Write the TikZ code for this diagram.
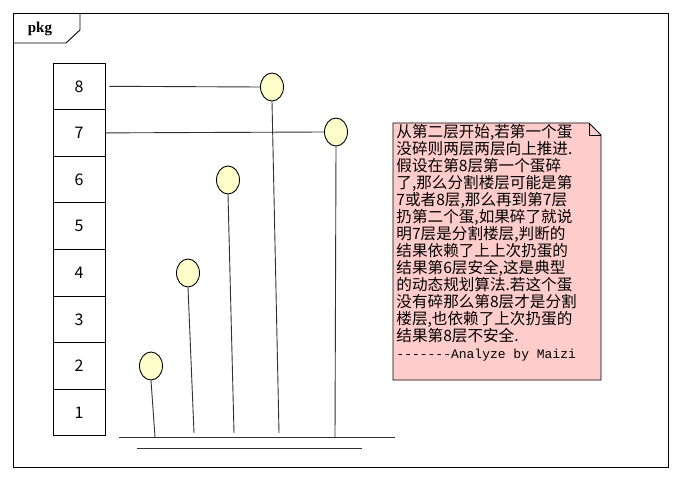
\documentclass[tikz,border=0pt]{standalone}
\usepackage{fontspec}
\setmainfont{Liberation Serif}
\newfontfamily\cjk{Noto Sans CJK SC}
\newfontfamily\monofont{Liberation Mono}
\usetikzlibrary{shapes.geometric}
\definecolor{eggyellow}{HTML}{FFFFCC}
\definecolor{notepink}{HTML}{FFCCCC}
\definecolor{linegray}{HTML}{303030}

\begin{document}
\begin{tikzpicture}[x=1pt,y=-1pt,line width=0.9pt,
    floorbox/.style={draw,minimum width=52pt,minimum height=46.6pt,inner sep=0pt,
      font=\cjk\fontsize{16}{16}\selectfont},
    egg/.style={draw,ellipse,fill=eggyellow,minimum width=23pt,minimum height=28pt,inner sep=0pt},
    stick/.style={draw=linegray},
    notetext/.style={anchor=north west,align=left,inner sep=0pt,
      font=\cjk\fontsize{15.6}{17}\selectfont}]
	\useasboundingbox (0,0) rectangle (682,481);
	% frame and tab
	\draw (13,13) rectangle (668,467);
	\draw (13,43) -- (66,43) -- (80,30) -- (80,13);
	\node (pkg) at (40,29) {\fontsize{15}{15}\selectfont\bfseries pkg};

	% floors
	\foreach \k in {1,...,8} {
		\node [floorbox] (f\k) at (79,412.5-46.6*\k+46.6) {\k};
	}

	% eggs
	\node [egg] (e1) at (151,366) {};
	\node [egg] (e2) at (188,273) {};
	\node [egg] (e3) at (228,180) {};
	\node [egg] (e4) at (272,87) {};
	\node [egg] (e5) at (336,132) {};

	% ground
	\coordinate (gl) at (119,437);
	\coordinate (gr) at (395,437);
	\coordinate (bl) at (137,448);
	\coordinate (br) at (362,448);
	\draw [linegray] (gl) -- (gr);
	\draw [linegray] (bl) -- (br);

	% sticks
	\coordinate (s1) at (155,437);
	\coordinate (s2) at (194,433);
	\coordinate (s3) at (234,433);
	\coordinate (s4) at (279,433);
	\coordinate (s5) at (335,438);
	\foreach \i in {1,...,5} {
		\draw [stick] (e\i.south) -- (s\i);
	}

	% floor links
	\draw [linegray] ([xshift=4pt]f8.east) -- (e4.west);
	\draw [linegray] (f7.east) -- (e5.west);

	% note
	\draw [fill=notepink] (393,123) -- (589,123) -- (601,135) -- (601,380) -- (393,380) -- cycle;
	\draw (589,123) -- (589,135) -- (601,135);
	\node [notetext] (note) at (396,124) {%
		从第二层开始,若第一个蛋\\
		没碎则两层两层向上推进.\\
		假设在第8层第一个蛋碎\\
		了,那么分割楼层可能是第\\
		7或者8层,那么再到第7层\\
		扔第二个蛋,如果碎了就说\\
		明7层是分割楼层,判断的\\
		结果依赖了上上次扔蛋的\\
		结果第6层安全,这是典型\\
		的动态规划算法.若这个蛋\\
		没有碎那么第8层才是分割\\
		楼层,也依赖了上次扔蛋的\\
		结果第8层不安全.\\
		{\monofont\fontsize{13}{17}\selectfont -------Analyze by Maizi}};
\end{tikzpicture}
\end{document}
